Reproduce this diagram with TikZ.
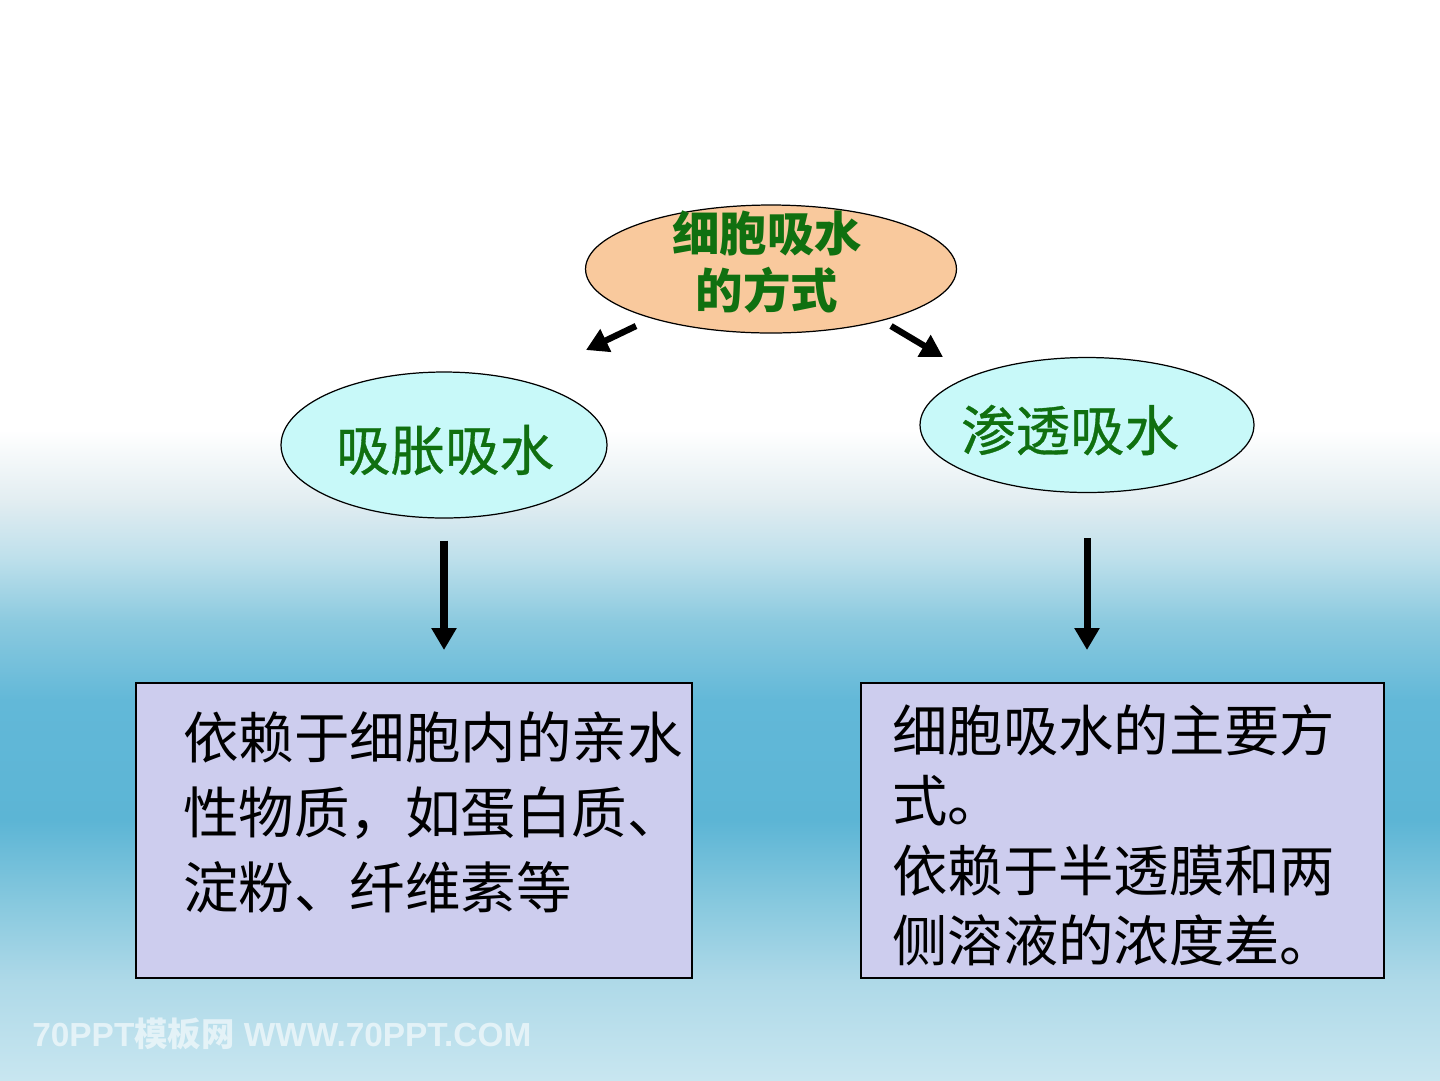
\documentclass[tikz,border=0pt]{standalone}
\usepackage{fontspec}
\usetikzlibrary{shapes.geometric,arrows.meta}
\newfontfamily\cjk{Noto Sans CJK SC}
\newfontfamily\cjkfb[FakeBold=0.6]{Noto Sans CJK SC}
\newfontfamily\wmsans{Liberation Sans}
\definecolor{bgA}{HTML}{F7FAFB}
\definecolor{bgB}{HTML}{E2EDF1}
\definecolor{bgC}{HTML}{BCDFEB}
\definecolor{bgD}{HTML}{8CCADF}
\definecolor{bgE}{HTML}{62B8D8}
\definecolor{bgF}{HTML}{5CB5D5}
\definecolor{bgG}{HTML}{86C8DE}
\definecolor{bgH}{HTML}{AED9E8}
\definecolor{bgI}{HTML}{C8E6F0}
\definecolor{peach}{HTML}{F9C99D}
\definecolor{paleCyan}{HTML}{C8F9F9}
\definecolor{lavender}{HTML}{CDCDEE}
\definecolor{leafGreen}{HTML}{107010}
\begin{document}
\begin{tikzpicture}[x=0.02cm,y=-0.02cm,
  bubble/.style={ellipse,draw=black,line width=0.7pt,inner sep=0pt},
  infobox/.style={draw=black,line width=0.8pt,fill=lavender},
  arr/.style={line width=4pt,-{Triangle[width=0.48cm,length=0.44cm]}},
  bubbletext/.style={inner sep=0pt,text=leafGreen,align=center},
  boxtext/.style={inner sep=0pt,anchor=west,align=left,text=black}]
\useasboundingbox (0,0) rectangle (1440,1080);
% background
\fill[white] (0,0) rectangle (1440,431);
\shade[top color=white,bottom color=bgB] (0,430) rectangle (1440,501);
\shade[top color=bgB,bottom color=bgC] (0,500) rectangle (1440,561);
\shade[top color=bgC,bottom color=bgD] (0,560) rectangle (1440,621);
\shade[top color=bgD,bottom color=bgE] (0,620) rectangle (1440,701);
\shade[top color=bgE,bottom color=bgF] (0,700) rectangle (1440,821);
\shade[top color=bgF,bottom color=bgG] (0,820) rectangle (1440,901);
\shade[top color=bgG,bottom color=bgH] (0,900) rectangle (1440,981);
\shade[top color=bgH,bottom color=bgI] (0,980) rectangle (1440,1080);
% watermark
\node[anchor=west,inner sep=0pt,text=white,opacity=0.6,font={\fontsize{19}{19}\selectfont\bfseries}] (wm) at (32,1034)
  {\wmsans 70PPT\cjk 模板网\wmsans{} WWW.70PPT.COM};
% ellipses
\node[bubble,fill=peach,minimum width=7.42cm,minimum height=2.56cm] (top) at (771,269) {};
\node[bubble,fill=paleCyan,minimum width=6.52cm,minimum height=2.92cm] (swell) at (444,445) {};
\node[bubble,fill=paleCyan,minimum width=6.68cm,minimum height=2.70cm] (osmo) at (1087,425) {};
\node[bubbletext,font={\cjk\bfseries\fontsize{27}{32.4}\selectfont}] (toptext) at (767,262) {细胞吸水\\的方式};
\node[bubbletext,font={\cjkfb\fontsize{31}{31}\selectfont}] (swelltext) at (445,450) {吸胀吸水};
\node[bubbletext,font={\cjkfb\fontsize{31}{31}\selectfont}] (osmotext) at (1070,430) {渗透吸水};
% boxes
\draw[infobox] (136,683) rectangle (692,978);
\coordinate (box1) at (414,683);
\draw[infobox] (861,683) rectangle (1384,978);
\coordinate (box2) at (1122,683);
\node[boxtext,font={\cjk\fontsize{31.6}{42.7}\selectfont}] (t1) at (183,812)
  {依赖于细胞内的亲水\\性物质，如蛋白质、\\淀粉、纤维素等};
\node[boxtext,font={\cjk\fontsize{31.5}{39.8}\selectfont}] (t2) at (892,835)
  {细胞吸水的主要方\\式。\\依赖于半透膜和两\\侧溶液的浓度差。};
% arrows
\coordinate (la) at (636,326);
\coordinate (lb) at (586,350);
\coordinate (ra) at (891,326);
\coordinate (rb) at (943,357);
\draw[arr,line width=3.6pt] (la) -- (lb);
\draw[arr,line width=3.6pt] (ra) -- (rb);
\draw[arr,shorten <=0.44cm,shorten >=0.66cm] (swell.south) -- (swell.south |- box1);
\draw[arr,shorten <=0.9cm,shorten >=0.66cm] (osmo.south) -- (osmo.south |- box2);
\end{tikzpicture}
\end{document}
